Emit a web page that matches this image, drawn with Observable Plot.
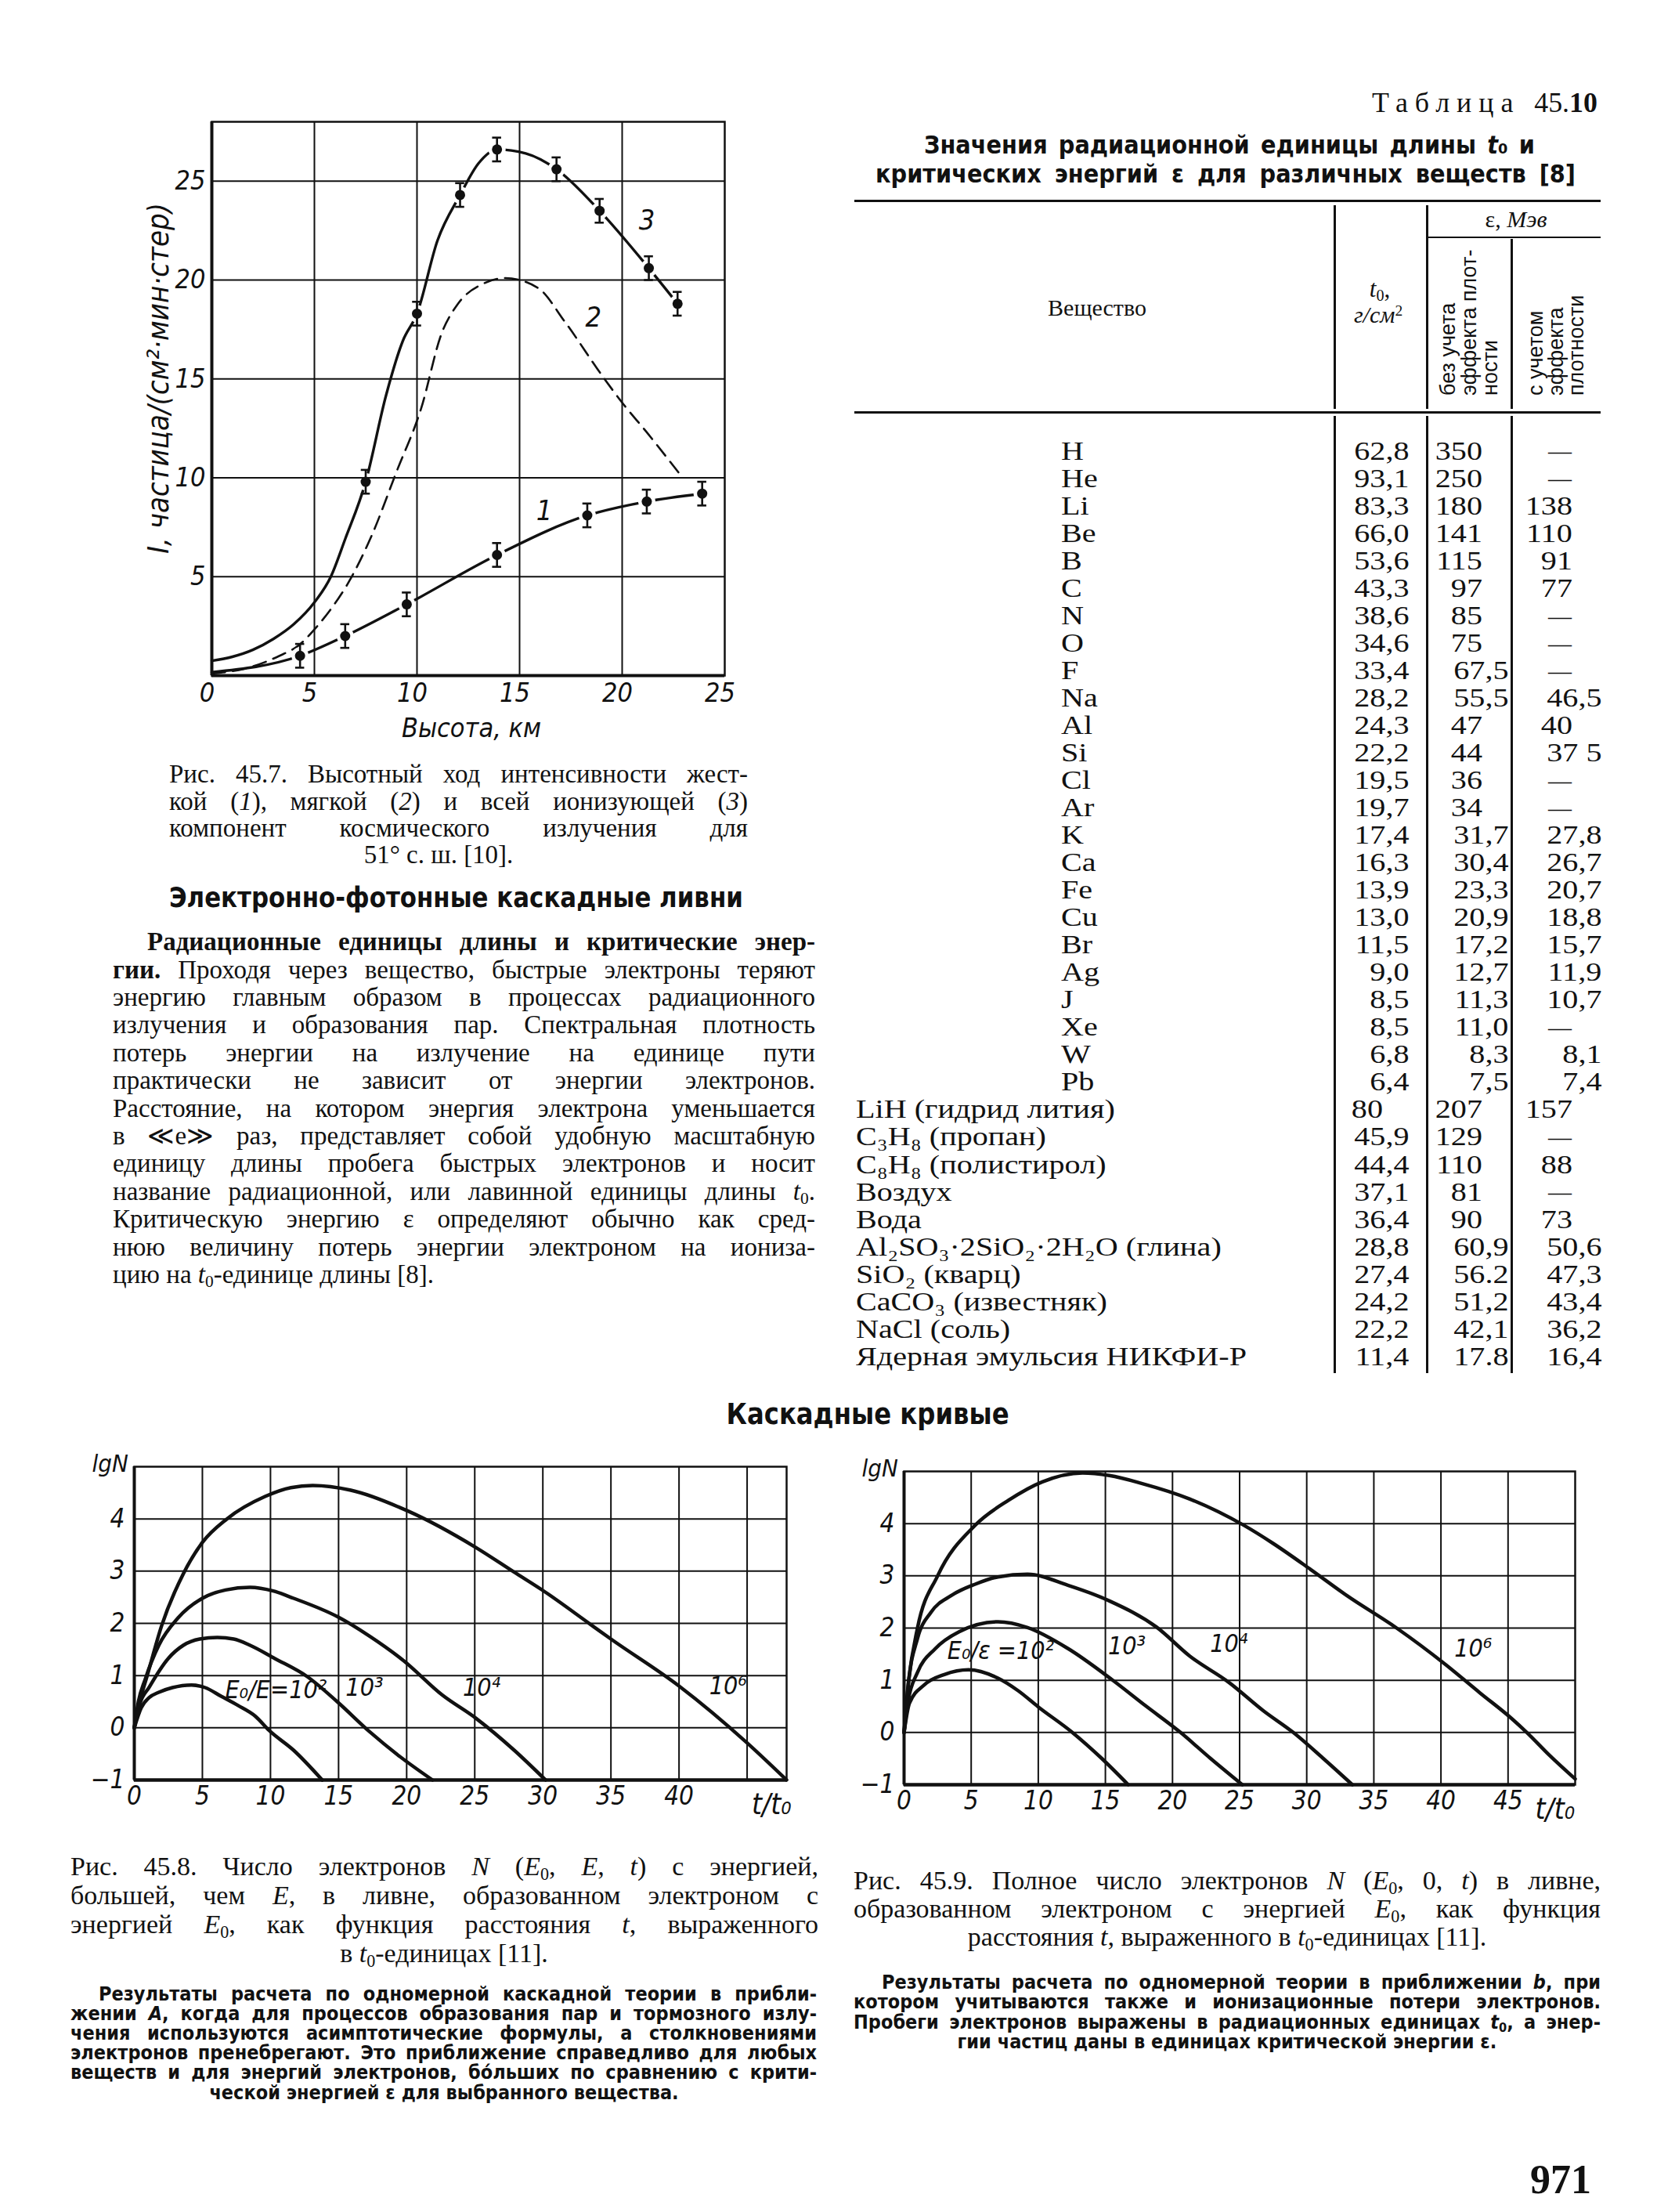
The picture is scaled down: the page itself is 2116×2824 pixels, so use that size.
<!DOCTYPE html>
<html lang="ru">
<head>
<meta charset="utf-8">
<script src="https://cdn.jsdelivr.net/npm/d3@7"></script>
<script src="https://cdn.jsdelivr.net/npm/@observablehq/plot@0.6"></script>
<style>
html,body{margin:0;padding:0;background:#fff;}
#page{position:relative;width:2116px;height:2824px;background:#fff;overflow:hidden;color:#111;}
#page .t{position:absolute;white-space:nowrap;color:#111;}
#page .rule{position:absolute;background:#111;}
#page svg{position:absolute;overflow:visible;}
#page sub{font-size:0.65em;vertical-align:-0.25em;line-height:0;}
#page sup{font-size:0.65em;vertical-align:0.45em;line-height:0;}
</style>
</head>
<body>
<div id="page"></div>
<script>
// ================= DATA =================
// --- Fig. 45.7: altitude dependence of cosmic-ray intensity ---
const altTicks = [0, 5, 10, 15, 20, 25];
const altGrid = [5, 10, 15, 20];
const intTicks = [5, 10, 15, 20, 25];
// measured points, curve 3 (all ionizing component)
const totalAlt = [7.5, 10.0, 12.1, 13.9, 16.8, 18.9, 21.3, 22.7];
const totalI   = [9.8, 18.3, 24.3, 26.6, 25.6, 23.5, 20.6, 18.8];
const totalErr = [0.6, 0.6, 0.6, 0.6, 0.6, 0.6, 0.6, 0.6];
// measured points, curve 1 (hard component)
const hardAlt = [4.3, 6.5, 9.5, 13.9, 18.3, 21.2, 23.9];
const hardI   = [1.0, 2.0, 3.6, 6.1, 8.1, 8.8, 9.2];
const hardErr = [0.6, 0.6, 0.6, 0.6, 0.6, 0.6, 0.6];
// drawn curves
const totalLineAlt = [0, 1, 2, 3, 4, 5, 5.8, 6.5, 7.5, 8.5, 9.3, 10.0, 11.0, 12.1, 13.0, 13.9, 15.3, 16.8, 18.9, 21.3, 22.7];
const totalLineI   = [0.75, 0.95, 1.3, 1.85, 2.6, 3.7, 5.0, 6.9, 9.8, 14.2, 16.9, 18.3, 22.0, 24.3, 25.9, 26.6, 26.4, 25.6, 23.5, 20.6, 18.8];
const hardLineAlt  = [0, 4.3, 6.5, 9.5, 13.9, 18.3, 21.2, 23.9];
const hardLineI    = [0.17, 1.0, 2.0, 3.6, 6.1, 8.1, 8.8, 9.2];
const softAlt = [0, 1.6, 3.3, 4.2, 5.1, 5.9, 6.6, 7.8, 9.0, 10.2, 11.2, 12.0, 13.2, 14.3, 15.9, 17.2, 19.0, 20.0, 21.2, 22.8];
const softI   = [0.1, 0.35, 1.0, 1.5, 2.45, 3.5, 4.6, 7.1, 10.3, 13.5, 17.3, 18.8, 19.8, 20.1, 19.6, 17.9, 15.2, 13.8, 12.3, 10.2];
const curveNames7 = ["1", "2", "3"];
const curveNameAlt7 = [16.2, 18.6, 21.2];
const curveNameI7 = [8.3, 18.1, 23.0];
const xTitle7 = "Высота, км";
const yTitle7 = "I, частица/(см²·мин·стер)";

// --- Fig. 45.8: N(E0,E,t), approximation A ---
const lgTicks = [-1, 0, 1, 2, 3, 4];
const lgGrid = [0, 1, 2, 3, 4];
const tGrid = [5, 10, 15, 20, 25, 30, 35, 40, 45];
const tTicks8 = [0, 5, 10, 15, 20, 25, 30, 35, 40];
const a2t = [0, 0.5, 1.1, 1.8, 2.8, 4.2, 5.2, 6.4, 7.6, 8.9, 9.9, 11.7, 13.8];
const a2y = [0, 0.38, 0.58, 0.68, 0.77, 0.82, 0.77, 0.6, 0.43, 0.22, -0.05, -0.43, -1.0];
const a3t = [0, 0.4, 1.1, 2.5, 3.6, 4.8, 6.1, 7.3, 8.5, 10.3, 12.7, 14.9, 17.3, 19.4, 21.9];
const a3y = [0, 0.45, 0.78, 1.33, 1.58, 1.7, 1.73, 1.7, 1.58, 1.33, 0.98, 0.5, -0.08, -0.53, -1.0];
const a4t = [0, 0.3, 0.8, 1.8, 3.2, 5.0, 6.7, 8.5, 10.2, 11.7, 14.9, 17.3, 19.8, 22.6, 25.1, 27.9, 30.2];
const a4y = [0, 0.5, 0.93, 1.58, 2.1, 2.48, 2.64, 2.69, 2.62, 2.48, 2.13, 1.75, 1.28, 0.63, 0.18, -0.43, -1.0];
const a6t = [0, 0.4, 0.95, 2.0, 3.6, 5.0, 6.8, 9.6, 11.5, 13.1, 15.9, 20.1, 25.1, 27.9, 30.0, 33.5, 35.0, 40.0, 45.0, 47.9];
const a6y = [0, 0.5, 1.0, 1.95, 2.95, 3.55, 4.0, 4.43, 4.6, 4.64, 4.55, 4.15, 3.45, 2.98, 2.63, 1.98, 1.7, 0.8, -0.29, -1.0];
const labels8 = ["E₀/E=10²", "10³", "10⁴", "10⁶"];
const labelT8 = [10.4, 16.9, 25.5, 43.6];
const labelY8 = [0.72, 0.77, 0.77, 0.8];

// --- Fig. 45.9: N(E0,0,t), approximation B ---
const tTicks9 = [0, 5, 10, 15, 20, 25, 30, 35, 40, 45];
const b2t = [0, 0.4, 1.5, 3.0, 4.8, 7.0, 8.5, 10.0, 12.5, 14.7, 16.7];
const b2y = [0, 0.56, 0.91, 1.11, 1.2, 1.04, 0.8, 0.49, 0.01, -0.49, -1.0];
const b3t = [0, 0.3, 1.0, 2.3, 4.1, 7.0, 9.2, 12.2, 15.5, 18.0, 20.6, 22.8, 25.2];
const b3y = [0, 0.6, 1.15, 1.6, 1.93, 2.12, 2.01, 1.61, 1.01, 0.51, 0.0, -0.49, -1.0];
const b4t = [0, 0.3, 1.0, 2.0, 3.5, 5.3, 7.0, 9.2, 12.2, 15.3, 18.8, 21.3, 24.2, 26.8, 29.0, 31.2, 33.4];
const b4y = [0, 0.9, 1.8, 2.3, 2.62, 2.84, 2.98, 3.03, 2.82, 2.52, 2.02, 1.46, 0.96, 0.41, 0.0, -0.49, -1.0];
const b6t = [0, 0.35, 1.0, 2.5, 5.3, 7.8, 10.3, 13.3, 15.3, 17.7, 21.3, 25.3, 27.5, 30.3, 33.0, 36.7, 40.3, 42.9, 45.3, 46.4, 48.1, 50.0];
const b6y = [0, 1.0, 2.0, 3.0, 3.97, 4.45, 4.8, 4.97, 4.92, 4.77, 4.47, 3.97, 3.62, 3.12, 2.62, 2.0, 1.31, 0.76, 0.26, 0.0, -0.44, -0.89];
const labels9 = ["E₀/ε =10²", "10³", "10⁴", "10⁶"];
const labelT9 = [7.2, 16.6, 24.2, 42.4];
const labelY9 = [1.56, 1.65, 1.7, 1.6];

// --- Table 45.10 ---
const substances = ["H","He","Li","Be","B","C","N","O","F","Na","Al","Si","Cl","Ar","K","Ca","Fe","Cu","Br","Ag","J","Xe","W","Pb",
  "LiH (гидрид лития)","C₃H₈ (пропан)","C₈H₈ (полистирол)","Воздух","Вода","Al₂SO₃·2SiO₂·2H₂O (глина)",
  "SiO₂ (кварц)","CaCO₃ (известняк)","NaCl (соль)","Ядерная эмульсия НИКФИ-Р"];
const isElement = substances.map((s, i) => i < 24);
const t0Values = ["62,8","93,1","83,3","66,0","53,6","43,3","38,6","34,6","33,4","28,2","24,3","22,2","19,5","19,7","17,4","16,3","13,9","13,0","11,5","9,0","8,5","8,5","6,8","6,4",
  "80","45,9","44,4","37,1","36,4","28,8","27,4","24,2","22,2","11,4"];
const epsNoDensity = ["350","250","180","141","115","97","85","75","67,5","55,5","47","44","36","34","31,7","30,4","23,3","20,9","17,2","12,7","11,3","11,0","8,3","7,5",
  "207","129","110","81","90","60,9","56.2","51,2","42,1","17.8"];
const epsDensity = ["—","—","138","110","91","77","—","—","—","46,5","40","37 5","—","—","27,8","26,7","20,7","18,8","15,7","11,9","10,7","—","8,1","7,4",
  "157","—","88","—","73","50,6","47,3","43,4","36,2","16,4"];

// ================= HELPERS =================
const SERIF = '"Liberation Serif","DejaVu Serif",serif';
const NARROW = '"Liberation Sans Narrow","DejaVu Sans Condensed","Liberation Sans","DejaVu Sans",sans-serif';
const SANS = '"Liberation Sans","DejaVu Sans",sans-serif';
const INK = "#111";
const page = document.getElementById("page");

function put(html, o) {
  const el = document.createElement("div");
  el.className = "t";
  el.innerHTML = html;
  const lh = o.size * 0.84;
  el.style.fontFamily = o.family || SERIF;
  el.style.fontSize = o.size + "px";
  el.style.lineHeight = lh + "px";
  if (o.weight) el.style.fontWeight = o.weight;
  if (o.italic) el.style.fontStyle = "italic";
  if (o.ls) el.style.letterSpacing = o.ls + "px";
  page.appendChild(el);
  const w = el.getBoundingClientRect().width;
  el.style.top = (o.y - lh / 2) + "px";
  let sx = o.sx || 1;
  if (o.width) sx = o.width / w;
  const align = o.align || "left";
  if (align === "justify") {
    const target = o.x1 - o.x0;
    const spaces = (el.textContent.match(/ /g) || []).length;
    if (w < target && spaces > 0) el.style.wordSpacing = ((target - w) / spaces) + "px";
    else if (w > target) sx = target / w;
    el.style.left = o.x0 + "px";
    el.style.transformOrigin = "0 50%";
  } else if (align === "center") {
    el.style.left = (o.x - w / 2) + "px";
    el.style.transformOrigin = "50% 50%";
  } else if (align === "right") {
    el.style.left = (o.x - w) + "px";
    el.style.transformOrigin = "100% 50%";
  } else {
    el.style.left = o.x + "px";
    el.style.transformOrigin = "0 50%";
  }
  if (sx !== 1) el.style.transform = `scaleX(${sx})`;
  return el;
}
function putRot(html, cx, bottom, size, family) {
  const el = document.createElement("div");
  el.className = "t";
  el.innerHTML = html;
  el.style.fontFamily = family || SANS;
  el.style.fontSize = size + "px";
  el.style.lineHeight = size + "px";
  el.style.left = (cx - size / 2) + "px";
  el.style.top = bottom + "px";
  el.style.transformOrigin = "0 0";
  el.style.transform = "rotate(-90deg)";
  page.appendChild(el);
  return el;
}
function rule(x, y, w, h) {
  const el = document.createElement("div");
  el.className = "rule";
  Object.assign(el.style, {left: x + "px", top: y + "px", width: w + "px", height: h + "px"});
  page.appendChild(el);
}
function place(svg, left, top) {
  svg.style.left = left + "px";
  svg.style.top = top + "px";
  page.appendChild(svg);
}
const zip = (xs, ys, extra) => xs.map((x, i) => Object.assign({x, y: ys[i]}, extra ? extra(i) : {}));
const intFmt = d => (d < 0 ? "−" + Math.abs(d) : String(d));

// ================= FIG 45.7 =================
const pts3 = zip(totalAlt, totalI, i => ({e: totalErr[i]}));
const pts1 = zip(hardAlt, hardI, i => ({e: hardErr[i]}));
const allPts = pts3.concat(pts1);
const fig7 = Plot.plot({
  width: 800, height: 860,
  marginLeft: 120, marginRight: 25, marginTop: 40, marginBottom: 113,
  x: {domain: [0, 25]},
  y: {domain: [0, 28]},
  style: {fontFamily: NARROW, fontSize: "34px", fontStyle: "italic", color: INK, background: "none"},
  marks: [
    Plot.line(zip(softAlt, softI), {x: "x", y: "y", curve: "monotone-x", stroke: INK, strokeWidth: 2.6, strokeDasharray: "17 10"}),
    Plot.line(zip(totalLineAlt, totalLineI), {x: "x", y: "y", curve: "monotone-x", stroke: INK, strokeWidth: 3.4}),
    Plot.line(zip(hardLineAlt, hardLineI), {x: "x", y: "y", curve: "monotone-x", stroke: INK, strokeWidth: 3.4}),
    Plot.dot(allPts, {x: "x", y: "y", r: 11, fill: "#fff", stroke: "none"}),
    Plot.ruleX(altGrid, {stroke: INK, strokeWidth: 2}),
    Plot.ruleY(intTicks, {stroke: INK, strokeWidth: 2}),
    Plot.frame({stroke: INK, strokeWidth: 2.5}),
    Plot.ruleX([0], {stroke: INK, strokeWidth: 4}),
    Plot.ruleY([0], {stroke: INK, strokeWidth: 4}),
    Plot.ruleX(allPts, {x: "x", y1: d => d.y - d.e, y2: d => d.y + d.e, stroke: INK, strokeWidth: 2.6}),
    Plot.ruleY(allPts, {y: d => d.y + d.e, x1: d => d.x - 0.22, x2: d => d.x + 0.22, stroke: INK, strokeWidth: 2.6}),
    Plot.ruleY(allPts, {y: d => d.y - d.e, x1: d => d.x - 0.22, x2: d => d.x + 0.22, stroke: INK, strokeWidth: 2.6}),
    Plot.dot(allPts, {x: "x", y: "y", r: 6.5, fill: INK, stroke: "none"}),
    Plot.axisX({ticks: altTicks, tickFormat: intFmt, tickSize: 0, tickPadding: 9, label: null, dx: -6, fontSize: 34}),
    Plot.axisY({ticks: intTicks, tickFormat: intFmt, tickSize: 0, tickPadding: 8, label: null, fontSize: 34}),
    Plot.text([xTitle7], {text: d => d, frameAnchor: "bottom", lineAnchor: "bottom", dy: 78, dx: 4, fontSize: 34}),
    Plot.text([yTitle7], {text: d => d, frameAnchor: "left", textAnchor: "middle", dx: -68, dy: -26, rotate: -90, fontSize: 38}),
    Plot.text(curveNames7, {text: d => d, x: (d, i) => curveNameAlt7[i], y: (d, i) => curveNameI7[i], fontSize: 36})
  ]
});
place(fig7, 150, 115);

// ================= CASCADE FIGS =================
function cascade(series, xMax, ticks, labels, lt, ly, tTitleX, dims) {
  return Plot.plot({
    width: dims.w, height: dims.h,
    marginLeft: dims.ml, marginRight: dims.mr, marginTop: dims.mt, marginBottom: dims.mb,
    x: {domain: [0, xMax]},
    y: {domain: [-1, 5]},
    style: {fontFamily: NARROW, fontSize: "33px", fontStyle: "italic", color: INK, background: "none"},
    marks: [
      Plot.ruleX(tGrid, {stroke: INK, strokeWidth: 2}),
      Plot.ruleY(lgGrid, {stroke: INK, strokeWidth: 2}),
      Plot.frame({stroke: INK, strokeWidth: 2.5}),
      Plot.ruleX([0], {stroke: INK, strokeWidth: 4}),
      Plot.ruleY([-1], {stroke: INK, strokeWidth: 4.5}),
      Plot.line(series, {x: "x", y: "y", z: "s", curve: "monotone-x", stroke: INK, strokeWidth: 4.5}),
      Plot.text(labels, {text: d => d, x: (d, i) => lt[i], y: (d, i) => ly[i], fontSize: 32}),
      Plot.axisX({ticks, tickFormat: intFmt, tickSize: 0, tickPadding: 8, label: null, fontSize: 33}),
      Plot.axisY({ticks: lgTicks, tickFormat: intFmt, tickSize: 0, tickPadding: 12, label: null, fontSize: 33}),
      Plot.text(["lgN"], {text: d => d, frameAnchor: "top-left", textAnchor: "start", lineAnchor: "top", dx: -54, dy: -16, fontSize: 31}),
      Plot.text(["t/t₀"], {text: d => d, x: () => tTitleX, y: () => -1, dy: 32, fontSize: 37})
    ]
  });
}
const series8 = [].concat(
  zip(a2t, a2y, () => ({s: "1e2"})), zip(a3t, a3y, () => ({s: "1e3"})),
  zip(a4t, a4y, () => ({s: "1e4"})), zip(a6t, a6y, () => ({s: "1e6"})));
const series9 = [].concat(
  zip(b2t, b2y, () => ({s: "1e2"})), zip(b3t, b3y, () => ({s: "1e3"})),
  zip(b4t, b4y, () => ({s: "1e4"})), zip(b6t, b6y, () => ({s: "1e6"})));
place(cascade(series8, 47.9, tTicks8, labels8, labelT8, labelY8, 46.8,
  {w: 940, h: 510, ml: 81, mr: 26, mt: 42, mb: 68}), 90, 1830);
place(cascade(series9, 50, tTicks9, labels9, labelT9, labelY9, 48.5,
  {w: 960, h: 510, ml: 74, mr: 29, mt: 48, mb: 62}), 1080, 1830);

// ================= TEXT: LEFT COLUMN =================
const cap7 = ["Рис. 45.7. Высотный ход интенсивности жест-",
  "кой (<i>1</i>), мягкой (<i>2</i>) и всей ионизующей (<i>3</i>)",
  "компонент космического излучения для"];
cap7.forEach((h, i) => put(h, {align: "justify", x0: 216, x1: 955, y: 989 + i * 34.5, size: 33}));
put("51° с. ш. [10].", {align: "center", x: 560, y: 1092, size: 33});
put("Электронно-фотонные каскадные ливни", {align: "center", x: 582, y: 1146, size: 36, weight: "bold", family: NARROW, width: 733});

const para = [
  "<b>Радиационные единицы длины и критические энер-</b>",
  "<b>гии.</b> Проходя через вещество, быстрые электроны теряют",
  "энергию главным образом в процессах радиационного",
  "излучения и образования пар. Спектральная плотность",
  "потерь энергии на излучение на единице пути",
  "практически не зависит от энергии электронов.",
  "Расстояние, на котором энергия электрона уменьшается",
  "в ≪е≫ раз, представляет собой удобную масштабную",
  "единицу длины пробега быстрых электронов и носит",
  "название радиационной, или лавинной единицы длины <i>t</i><sub>0</sub>.",
  "Критическую энергию ε определяют обычно как сред-",
  "нюю величину потерь энергии электроном на иониза-"];
para.forEach((h, i) => put(h, {align: "justify", x0: i === 0 ? 188 : 144, x1: 1041, y: 1203 + i * 35.4, size: 33}));
put("цию на <i>t</i><sub>0</sub>-единице длины [8].", {x: 144, y: 1203 + 12 * 35.4, size: 33});

// ================= TABLE =================
put('<span style="letter-spacing:9px">Таблица</span>&nbsp;&nbsp;45.<b>10</b>', {align: "right", x: 2040, y: 131, size: 36, width: 288});
put("Значения радиационной единицы длины <i>t</i>₀ и", {align: "justify", x0: 1180, x1: 1960, y: 185, size: 32, weight: "bold", family: NARROW});
put("критических энергий ε для различных веществ [8]", {align: "justify", x0: 1118, x1: 2012, y: 222, size: 32, weight: "bold", family: NARROW});
rule(1091, 255, 953, 3);
rule(1091, 525, 953, 3);
rule(1822, 302, 222, 2);
rule(1703, 262, 3, 260); rule(1821, 262, 3, 260); rule(1929, 305, 3, 217);
rule(1703, 531, 3, 1222); rule(1821, 531, 3, 1222); rule(1929, 531, 3, 1222);
put("Вещество", {align: "center", x: 1401, y: 393, size: 30});
put("<i>t</i><sub>0</sub>,", {align: "center", x: 1762, y: 369, size: 31});
put("<i>г/см</i><sup>2</sup>", {align: "center", x: 1760, y: 402, size: 30});
put("ε, <i>Мэв</i>", {align: "center", x: 1936, y: 280, size: 30});
["без учета", "эффекта плот-", "ности"].forEach((h, i) => putRot(h, 1849 + i * 27, 505, 27));
["с учетом", "эффекта", "плотности"].forEach((h, i) => putRot(h, 1961 + i * 26, 505, 27));

// horizontal stretch for the condensed-looking table face
const probe = put(substances[33], {x: 0, y: -200, size: 34});
const tableSx = 499 / probe.getBoundingClientRect().width;
probe.remove();
const isDec = v => /[,. ]/.test(v);
substances.forEach((s, i) => {
  const y = 576 + i * 35.03;
  put(s, {x: isElement[i] ? 1355 : 1093, y, size: 34, sx: tableSx});
  const a = t0Values[i];
  put(a, {align: "right", x: isDec(a) ? 1799 : 1766, y, size: 34, sx: tableSx});
  const b = epsNoDensity[i];
  put(b, {align: "right", x: isDec(b) ? 1926 : 1893, y, size: 34, sx: tableSx});
  const c = epsDensity[i];
  if (c === "—") put(c, {align: "center", x: 1992, y, size: 30});
  else put(c, {align: "right", x: isDec(c) ? 2045 : 2008, y, size: 34, sx: tableSx});
});

// ================= BOTTOM TEXT =================
put("Каскадные кривые", {align: "center", x: 1108, y: 1806, size: 38, weight: "bold", family: NARROW, width: 361});

const cap8 = ["Рис. 45.8. Число электронов <i>N</i> (<i>E</i><sub>0</sub>, <i>E</i>, <i>t</i>) с энергией,",
  "большей, чем <i>E</i>, в ливне, образованном электроном с",
  "энергией <i>E</i><sub>0</sub>, как функция расстояния <i>t</i>, выраженного"];
cap8.forEach((h, i) => put(h, {align: "justify", x0: 90, x1: 1045, y: 2383 + i * 37, size: 34}));
put("в <i>t</i><sub>0</sub>-единицах [11].", {align: "center", x: 567, y: 2494, size: 34});
const note8 = ["Результаты расчета по одномерной каскадной теории в прибли-",
  "жении <i>А</i>, когда для процессов образования пар и тормозного излу-",
  "чения используются асимптотические формулы, а столкновениями",
  "электронов пренебрегают. Это приближение справедливо для любых",
  "веществ и для энергий электронов, бо́льших по сравнению с крити-"];
note8.forEach((h, i) => put(h, {align: "justify", x0: i === 0 ? 126 : 90, x1: 1043, y: 2545 + i * 25.2, size: 25, weight: "bold", family: NARROW}));
put("ческой энергией ε для выбранного вещества.", {align: "center", x: 567, y: 2671, size: 25, weight: "bold", family: NARROW});

const cap9 = ["Рис. 45.9. Полное число электронов <i>N</i> (<i>E</i><sub>0</sub>, 0, <i>t</i>) в ливне,",
  "образованном электроном с энергией <i>E</i><sub>0</sub>, как функция"];
cap9.forEach((h, i) => put(h, {align: "justify", x0: 1090, x1: 2044, y: 2401 + i * 36, size: 34}));
put("расстояния <i>t</i>, выраженного в <i>t</i><sub>0</sub>-единицах [11].", {align: "center", x: 1567, y: 2473, size: 34});
const note9 = ["Результаты расчета по одномерной теории в приближении <i>b</i>, при",
  "котором учитываются также и ионизационные потери электронов.",
  "Пробеги электронов выражены в радиационных единицах <i>t</i><sub>0</sub>, а энер-"];
note9.forEach((h, i) => put(h, {align: "justify", x0: i === 0 ? 1126 : 1090, x1: 2044, y: 2530 + i * 25.5, size: 25, weight: "bold", family: NARROW}));
put("гии частиц даны в единицах критической энергии ε.", {align: "center", x: 1567, y: 2606, size: 25, weight: "bold", family: NARROW});

put("971", {align: "right", x: 2032, y: 2783, size: 52, weight: "bold", family: SERIF});
</script>
</body>
</html>
